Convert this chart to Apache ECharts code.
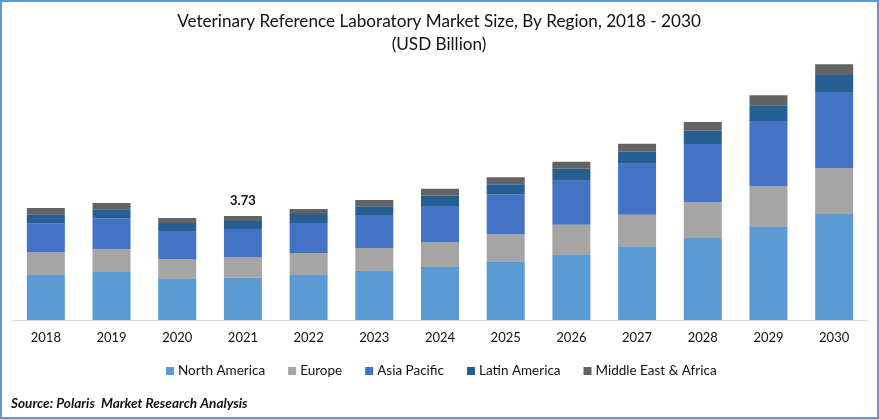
<!DOCTYPE html>
<html>
<head>
<meta charset="utf-8">
<title>Veterinary Reference Laboratory Market Size</title>
<style>
html, body { margin: 0; padding: 0; background: #fff; }
#chart { width: 879px; height: 419px; }
</style>
<script src="https://cdn.jsdelivr.net/npm/echarts@6/dist/echarts.min.js"></script>
</head>
<body>
<div id="chart"></div>
<script>
var years = ['2018', '2019', '2020', '2021', '2022', '2023', '2024', '2025', '2026', '2027', '2028', '2029', '2030'];

// USD billion
var northAmerica = [1.61, 1.72, 1.47, 1.51, 1.61, 1.76, 1.90, 2.11, 2.33, 2.62, 2.94, 3.33, 3.80];
var europe = [0.82, 0.82, 0.72, 0.75, 0.79, 0.82, 0.90, 0.97, 1.08, 1.15, 1.29, 1.47, 1.65];
var asiaPacific = [1.04, 1.11, 1.00, 1.00, 1.08, 1.18, 1.29, 1.43, 1.58, 1.83, 2.08, 2.33, 2.72];
var latinAmerica = [0.32, 0.32, 0.29, 0.29, 0.32, 0.32, 0.36, 0.36, 0.43, 0.43, 0.47, 0.57, 0.61];
var middleEast = [0.22, 0.22, 0.18, 0.18, 0.18, 0.22, 0.25, 0.25, 0.25, 0.29, 0.32, 0.36, 0.39];

var labelYear = '2021';
var labelText = '3.73';

var fontName = 'Lato';
var textColor = '#111';

// only the 2021 bar has a total on top
var middleEastData = middleEast.map(function (v, i) {
	if (years[i] !== labelYear) {
		return v;
	}
	return {
		value: v,
		label: {
			show: true,
			position: 'top',
			distance: 9,
			formatter: labelText,
			fontFamily: fontName,
			fontSize: 13,
			fontWeight: 'bold',
			color: textColor
		}
	};
});

function barSeries(name, color, data) {
	return {
		name: name,
		type: 'bar',
		stack: 'total',
		barWidth: 38,
		itemStyle: { color: color },
		data: data
	};
}

var chart = echarts.init(document.getElementById('chart'));
chart.setOption({
	animation: false,
	backgroundColor: '#fff',
	title: {
		text: 'Veterinary Reference Laboratory Market Size, By Region, 2018 - 2030\n(USD Billion)',
		left: 434,
		top: 5,
		textAlign: 'center',
		textStyle: {
			fontFamily: fontName,
			fontSize: 17.15,
			fontWeight: 'normal',
			color: textColor,
			lineHeight: 23
		}
	},
	legend: {
		left: 166,
		top: 364,
		padding: 0,
		icon: 'rect',
		itemWidth: 8,
		itemHeight: 8,
		itemGap: 23,
		textStyle: { fontFamily: fontName, fontSize: 13.5, color: textColor, padding: [0, 0, 0, -1] }
	},
	grid: { left: 13, right: 12, top: 41, height: 279 },
	xAxis: {
		type: 'category',
		data: years,
		axisLine: { lineStyle: { color: '#D9D9D9', width: 1 } },
		axisTick: { show: false },
		axisLabel: { fontFamily: fontName, fontSize: 13, color: textColor, margin: 11 }
	},
	yAxis: { type: 'value', min: 0, max: 10, show: false },
	series: [
		barSeries('North America', '#5B9BD5', northAmerica),
		barSeries('Europe', '#A5A5A5', europe),
		barSeries('Asia Pacific', '#4472C4', asiaPacific),
		barSeries('Latin America', '#255E91', latinAmerica),
		barSeries('Middle East & Africa', '#636363', middleEastData)
	],
	graphic: [
		{
			type: 'rect',
			silent: true,
			shape: { x: 1, y: 1, width: 877, height: 417 },
			style: { fill: 'none', stroke: '#5B9BD5', lineWidth: 2 }
		},
		{
			type: 'text',
			silent: true,
			left: 11,
			top: 397,
			style: {
				text: 'Source: Polaris  Market Research Analysis',
				fontFamily: fontName,
				fontSize: 13.6,
				fontWeight: 'bold',
				fontStyle: 'italic',
				fill: textColor
			}
		}
	]
});
</script>
</body>
</html>
